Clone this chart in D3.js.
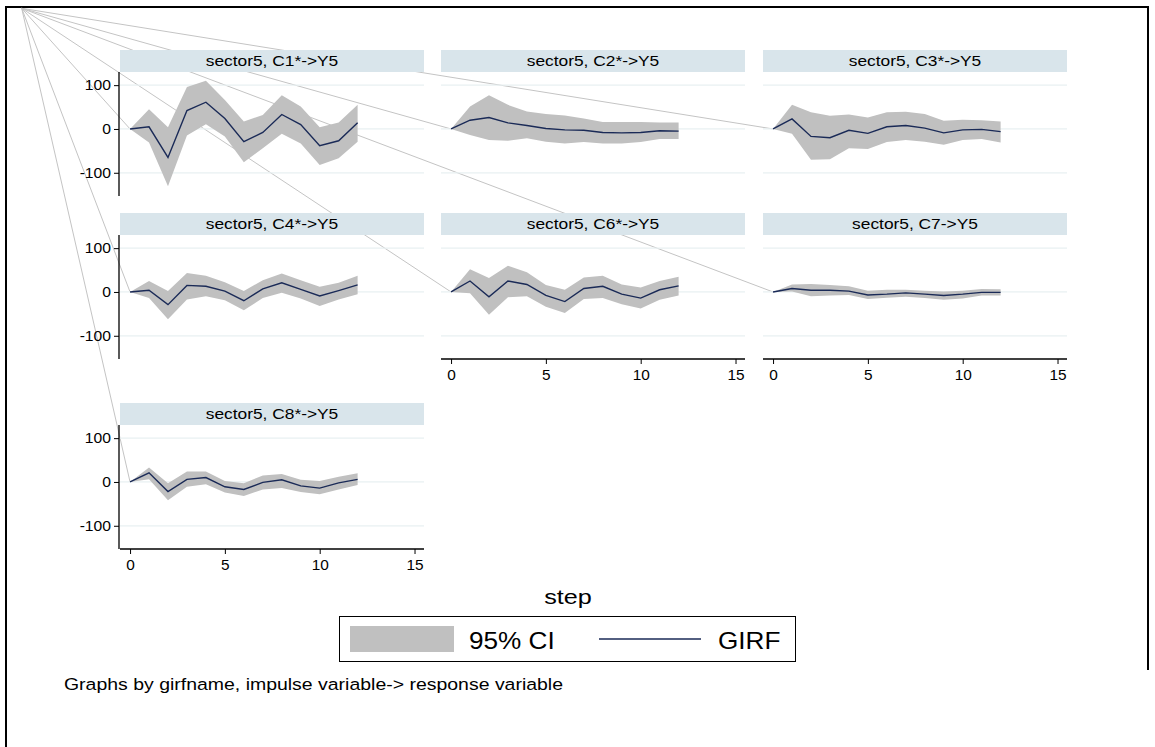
<!DOCTYPE html>
<html>
<head>
<meta charset="utf-8">
<script src="https://cdn.jsdelivr.net/npm/d3@7"></script>
<style>
  html, body { margin: 0; padding: 0; background: #fff; }
  svg { display: block; font-family: "Liberation Sans", Arial, sans-serif; }
</style>
</head>
<body>
<svg id="chart" width="1155" height="747"></svg>
<script>
// Impulse-response steps
const steps = [0, 1, 2, 3, 4, 5, 6, 7, 8, 9, 10, 11, 12];

// Panel titles (impulse -> response)
const titles = [
  "sector5, C1*->Y5", "sector5, C2*->Y5", "sector5, C3*->Y5",
  "sector5, C4*->Y5", "sector5, C6*->Y5", "sector5, C7->Y5",
  "sector5, C8*->Y5"
];

// GIRF point estimates and 95% confidence bounds per impulse
const girfC1 = [0, 5, -65, 42, 61, 24, -29, -8, 33, 10, -38, -27, 14];
const loC1   = [0, -31, -131, -15, 11, -17, -76, -44, -11, -33, -82, -67, -29];
const hiC1   = [0, 45, 4, 96, 110, 66, 17, 32, 77, 51, 4, 15, 55];

const girfC2 = [0, 20, 26, 14, 8, 1, -2, -3, -8, -9, -8, -4, -5];
const loC2   = [0, -14, -25, -27, -21, -29, -33, -30, -33, -33, -30, -23, -23];
const hiC2   = [0, 51, 77, 55, 40, 34, 31, 24, 16, 16, 16, 15, 15];

const girfC3 = [0, 23, -17, -20, -3, -10, 5, 8, 2, -9, -2, -1, -6];
const loC3   = [0, -11, -70, -69, -44, -46, -30, -25, -29, -36, -25, -23, -31];
const hiC3   = [0, 55, 38, 30, 33, 26, 38, 39, 34, 19, 21, 20, 17];

const girfC4 = [0, 4, -29, 15, 13, 2, -20, 7, 21, 6, -9, 3, 16];
const loC4   = [0, -14, -62, -17, -10, -19, -42, -14, -2, -15, -32, -17, -5];
const hiC4   = [0, 25, 2, 43, 37, 22, 2, 27, 42, 27, 12, 21, 37];

const girfC6 = [0, 25, -11, 25, 17, -8, -22, 8, 13, -5, -14, 5, 14];
const loC6   = [0, -3, -52, -12, -10, -34, -48, -16, -14, -28, -38, -18, -8];
const hiC6   = [0, 52, 32, 60, 45, 16, 5, 33, 37, 17, 10, 25, 35];

const girfC7 = [0, 8, 4, 4, 2, -7, -5, -2, -5, -8, -5, -1, -1];
const loC7   = [0, 1, -10, -8, -7, -16, -13, -11, -14, -18, -15, -8, -8];
const hiC7   = [0, 17, 18, 16, 13, 3, 5, 5, 3, 1, 3, 7, 6];

const girfC8 = [0, 21, -22, 6, 10, -11, -17, -1, 5, -9, -14, -2, 6];
const loC8   = [0, 6, -42, -11, -5, -24, -32, -17, -14, -23, -28, -17, -7];
const hiC8   = [0, 33, -3, 24, 24, 2, -3, 15, 18, 5, 2, 12, 20];

// Axis ticks
const yTicks = [-100, 0, 100];
const xTicks = [0, 5, 10, 15];

// Legend and captions
const legendLabels = ["95% CI", "GIRF"];
const xTitle = "step";
const note = "Graphs by girfname, impulse variable-> response variable";

const series = [
  { girf: girfC1, lo: loC1, hi: hiC1 },
  { girf: girfC2, lo: loC2, hi: hiC2 },
  { girf: girfC3, lo: loC3, hi: hiC3 },
  { girf: girfC4, lo: loC4, hi: hiC4 },
  { girf: girfC6, lo: loC6, hi: hiC6 },
  { girf: girfC7, lo: loC7, hi: hiC7 },
  { girf: girfC8, lo: loC8, hi: hiC8 }
];

// ---- layout ----
const svg = d3.select("#chart");
const colLeft = [120, 441, 763];
const rowTop = [50, 213, 403];
const panelW = 304, headH = 22, plotH = 124;
const CI_FILL = "#c0c0c0", LINE = "#1a2a57", HEAD = "#d9e5eb", GRID = "#e8f0f2";

const x = d3.scaleLinear().domain([-0.53, 15.5]).range([0, panelW]);
const y = d3.scaleLinear().domain([-153, 130]).range([plotH, 0]);

// Slightly widened text, in the style of the original graph engine
function widen(sel, sx, origin) {
  return sel.style("transform-box", "fill-box")
    .style("transform-origin", origin)
    .style("transform", `scaleX(${sx})`);
}

const panels = titles.map((t, i) => {
  const row = Math.floor(i / 3), col = i % 3;
  return {
    title: t, row, col,
    left: colLeft[col], top: rowTop[row] + headH,
    headTop: rowTop[row],
    yAxis: col === 0,
    xAxis: (row === 1 && col > 0) || row === 2,
    data: series[i]
  };
});

// Outer frame
svg.append("path")
  .attr("d", "M6,747 L6,7 L1148,7 L1148,670")
  .attr("fill", "none").attr("stroke", "#000").attr("stroke-width", 2);

// Stray connector lines from the graph origin to each panel's first point
const origin = [21.7, 8.3];
const connectors = svg.append("g");
panels.forEach(p => {
  connectors.append("line")
    .attr("x1", origin[0]).attr("y1", origin[1])
    .attr("x2", p.left + x(steps[0])).attr("y2", p.top + y(p.data.girf[0]))
    .attr("stroke", "#c4c4c4").attr("stroke-width", 1);
});

const area = d3.area().x((d, i) => x(steps[i])).y0(d => y(d[0])).y1(d => y(d[1]));
const line = d3.line().x((d, i) => x(steps[i])).y(d => y(d));
const plain = d => String(d);

panels.forEach(p => {
  // header strip
  const h = svg.append("g").attr("transform", `translate(${p.left},${p.headTop})`);
  h.append("rect").attr("width", panelW).attr("height", headH).attr("fill", HEAD);
  widen(h.append("text").attr("x", panelW / 2).attr("y", 16)
    .attr("text-anchor", "middle").attr("font-size", 15.5)
    .text(p.title), 1.12, "center");

  const g = svg.append("g").attr("transform", `translate(${p.left},${p.top})`);
  // gridlines
  g.selectAll(".grid").data(yTicks).join("line")
    .attr("x1", 0).attr("x2", panelW)
    .attr("y1", d => y(d)).attr("y2", d => y(d))
    .attr("stroke", GRID).attr("stroke-width", 1.2);

  const pairs = p.data.lo.map((v, i) => [v, p.data.hi[i]]);
  g.append("path").datum(pairs).attr("d", area).attr("fill", CI_FILL);
  g.append("path").datum(p.data.girf).attr("d", line)
    .attr("fill", "none").attr("stroke", LINE).attr("stroke-width", 1.4);

  if (p.yAxis) {
    const ya = g.append("g").attr("transform", "translate(-1,0)")
      .call(d3.axisLeft(y).tickValues(yTicks).tickSize(5).tickPadding(3).tickFormat(plain));
    ya.select(".domain").attr("d", `M0,0V${plotH}`).attr("stroke-width", 1.3);
    widen(ya.selectAll("text").attr("font-size", 14).attr("font-family", null).attr("fill", "#000"),
      1.12, "right center");
  }
  if (p.xAxis) {
    const xa = g.append("g").attr("transform", `translate(0,${plotH})`)
      .call(d3.axisBottom(x).tickValues(xTicks).tickSize(5).tickPadding(6).tickFormat(plain));
    xa.select(".domain").attr("d", `M0,0H${panelW}`).attr("stroke-width", 1.3);
    widen(xa.selectAll("text").attr("font-size", 14).attr("font-family", null).attr("fill", "#000"),
      1.1, "center");
  }
});

// x-axis title
widen(svg.append("text").attr("x", 568).attr("y", 604).attr("text-anchor", "middle")
  .attr("font-size", 21).text(xTitle), 1.2, "center");

// Legend
const lg = svg.append("g");
lg.append("rect").attr("x", 339.5).attr("y", 616.5).attr("width", 456).attr("height", 45)
  .attr("fill", "#fff").attr("stroke", "#000").attr("stroke-width", 1);
lg.append("rect").attr("x", 350).attr("y", 626).attr("width", 104).attr("height", 26).attr("fill", CI_FILL);
widen(lg.append("text").attr("x", 469).attr("y", 649).attr("font-size", 24)
  .text(legendLabels[0]), 1.09, "left center");
lg.append("line").attr("x1", 599).attr("x2", 701).attr("y1", 639).attr("y2", 639)
  .attr("stroke", LINE).attr("stroke-width", 1.6);
widen(lg.append("text").attr("x", 718).attr("y", 649).attr("font-size", 24)
  .text(legendLabels[1]), 1.09, "left center");

// Note
widen(svg.append("text").attr("x", 64).attr("y", 690).attr("font-size", 16.5)
  .text(note), 1.18, "left center");
</script>
</body>
</html>
